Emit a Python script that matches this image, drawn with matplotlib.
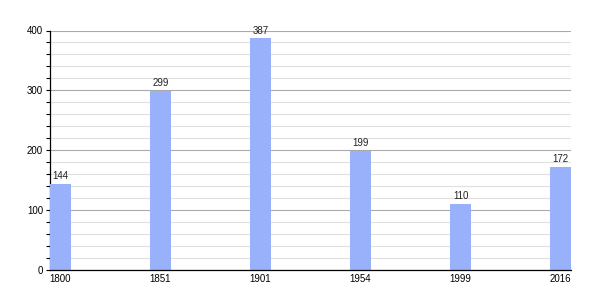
import matplotlib.pyplot as plt
from matplotlib.ticker import MultipleLocator

plt.rcParams["font.family"] = ["Liberation Sans", "DejaVu Sans"]

years = ["1800", "1851", "1901", "1954", "1999", "2016"]
population = [144, 299, 387, 199, 110, 172]

fig = plt.figure(figsize=(6, 3), dpi=100)
ax = fig.add_axes([50 / 600, 30 / 300, 521 / 600, 239.5 / 300])

pos = list(range(len(years)))
ax.bar(pos, population, width=0.21, align="edge", color="#99b0fb", zorder=3)

# value labels above each bar
for x, v in zip(pos, population):
    ax.annotate(str(v), (x + 0.105, v), xytext=(0, 2), textcoords="offset points",
                ha="center", va="bottom", fontsize=7, color="#222222", zorder=4)

ax.set_xlim(0, 5.21)
ax.set_ylim(0, 400)
ax.set_xticks([p + 0.105 for p in pos])
ax.set_xticklabels(years)
ax.tick_params(axis="x", length=0, pad=3, labelsize=7)

ax.yaxis.set_major_locator(MultipleLocator(100))
ax.yaxis.set_minor_locator(MultipleLocator(20))
ax.tick_params(axis="y", which="both", length=3, width=0.8, direction="out", pad=2, labelsize=7)
ax.grid(axis="y", which="major", color="#aaaaaa", linewidth=0.8, zorder=1)
ax.grid(axis="y", which="minor", color="#e0e0e0", linewidth=0.8, zorder=1)

for s in ["top", "right"]:
    ax.spines[s].set_visible(False)
ax.spines["left"].set_linewidth(0.9)
ax.spines["bottom"].set_linewidth(0.9)
ax.spines["bottom"].set_zorder(5)

fig.savefig("out.png", dpi=100)
